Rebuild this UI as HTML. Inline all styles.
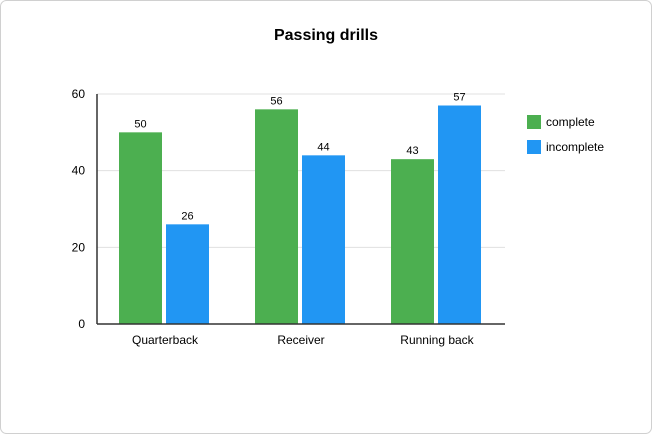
<!DOCTYPE html>
<html><head><meta charset="utf-8"><style>
body{margin:0;background:#fff;font-family:"Liberation Sans",Arial,sans-serif;}
svg{display:block}
</style></head><body>
<svg id="chart" width="652" height="434">
<rect x="0.5" y="0.5" width="651" height="433" rx="6" fill="#fff" stroke="#d0d0d0"/>
<text x="326" y="40" text-anchor="middle" font-size="16" font-weight="bold" fill="#000">Passing drills</text>
<g id="grid"></g><g id="bars"></g><g id="axes"></g>
<g>
<rect x="527" y="115" width="14" height="14" fill="#4CAF50"/>
<text x="546" y="126" font-size="12">complete</text>
<rect x="527" y="140" width="14" height="14" fill="#2196F3"/>
<text x="546" y="151" font-size="12">incomplete</text>
</g>
</svg>
<script>
const categories=["Quarterback","Receiver","Running back"];
const complete=[50,56,43];
const incomplete=[26,44,57];
const yTicks=[0,20,40,60];
const NS="http://www.w3.org/2000/svg";
const x0=97,x1=505,yBot=324,yTop=94,yMax=60;
const y=v=>yBot-(v/yMax)*(yBot-yTop);
const gw=(x1-x0)/categories.length;
function mk(tag,attrs,parent,text){const e=document.createElementNS(NS,tag);for(const k in attrs)e.setAttribute(k,attrs[k]);if(text!==undefined)e.textContent=text;parent.appendChild(e);return e;}
const grid=document.getElementById('grid'),bars=document.getElementById('bars'),axes=document.getElementById('axes');
yTicks.forEach(t=>{
  if(t>0){const l=mk('line',{x1:x0,x2:x1,y1:y(t),y2:y(t),stroke:'#e0e0e0'},grid);
  
  }
  const tx=mk('text',{x:85,y:y(t)+4,'text-anchor':'end','font-size':12,fill:'#000'},axes,String(t));
  
  
});
const series=[[complete,'#4CAF50','complete'],[incomplete,'#2196F3','incomplete']];
categories.forEach((c,i)=>{
  const gx=x0+i*gw;
  series.forEach(([vals,col,nm],s)=>{
    const bx=gx+22+s*47,v=vals[i];
    const r=mk('rect',{x:bx,y:y(v),width:43,height:yBot-y(v),fill:col},bars);
    
    
    const lb=mk('text',{x:bx+21.5,y:y(v)-5,'text-anchor':'middle','font-size':11,fill:'#000'},bars,String(v));
    
    
  });
  const cl=mk('text',{x:gx+gw/2,y:344,'text-anchor':'middle','font-size':12,fill:'#000'},axes,c);
  
  
});
const xa=mk('line',{x1:x0,x2:x1,y1:yBot,y2:yBot,stroke:'#333','stroke-width':1.5},axes);


const ya=mk('line',{x1:x0,x2:x0,y1:yTop,y2:yBot,stroke:'#333','stroke-width':1.5},axes);


</script>
</body></html>
